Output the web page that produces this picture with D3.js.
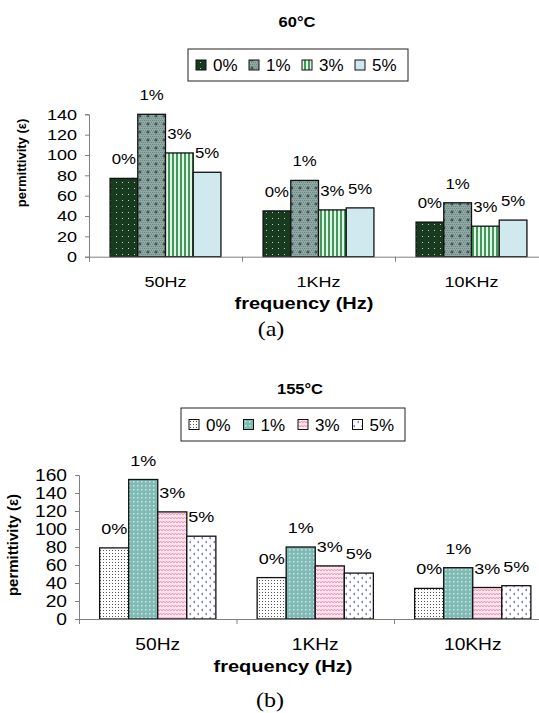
<!DOCTYPE html>
<html>
<head>
<meta charset="utf-8">
<script src="https://cdn.jsdelivr.net/npm/d3@7"></script>
<style>
  html, body { margin: 0; padding: 0; background: #fff; }
  svg { display: block; font-family: "Liberation Sans", Arial, sans-serif; }
</style>
</head>
<body>
<svg id="chart" width="539" height="713"></svg>
<script>
// Frequencies on the x axis and filler loadings (series)
const categories = ["50Hz", "1KHz", "10KHz"];
const seriesNames = ["0%", "1%", "3%", "5%"];

// Permittivity at 60°C, one array per loading, indexed by frequency
const p60_0 = [77, 45, 34];
const p60_1 = [140, 75, 53];
const p60_3 = [102, 46, 30];
const p60_5 = [83, 48, 36];

// Permittivity at 155°C
const p155_0 = [79, 46, 34];
const p155_1 = [155, 80, 57];
const p155_3 = [119, 59, 35];
const p155_5 = [92, 51, 37];

const ticks60 = [0, 20, 40, 60, 80, 100, 120, 140];
const ticks155 = [0, 20, 40, 60, 80, 100, 120, 140, 160];

const svg = d3.select("#chart");
const defs = svg.append("defs");

// ---- fill patterns ----
function pattern(id, w, h, build) {
  const p = defs.append("pattern").attr("id", id)
    .attr("patternUnits", "userSpaceOnUse").attr("width", w).attr("height", h);
  build(p);
}
// 60°C: dark green with light dots
pattern("a0", 6, 6, p => {
  p.append("rect").attr("width", 6).attr("height", 6).attr("fill", "#183a1f");
  p.append("rect").attr("x", 2).attr("y", 2).attr("width", 1).attr("height", 1).attr("fill", "#b9d2bb");
});
// 60°C: grey-teal fine checker with dark crosses
pattern("a1", 8, 8, p => {
  p.append("rect").attr("width", 8).attr("height", 8).attr("fill", "#8fa8a3");
  for (let i = 0; i < 8; i += 2) for (let j = 0; j < 8; j += 2) {
    p.append("rect").attr("x", i + ((j / 2) % 2)).attr("y", j).attr("width", 1).attr("height", 1).attr("fill", "#6d8782");
  }
  p.append("path").attr("d", "M4,2.5V5.5M2.5,4H5.5").attr("stroke", "#2c403c").attr("stroke-width", 1);
});
// 60°C: green vertical stripes
pattern("a2", 4, 4, p => {
  p.append("rect").attr("width", 4).attr("height", 4).attr("fill", "#e4f2e4");
  p.append("rect").attr("width", 2).attr("height", 4).attr("fill", "#3d9a5c");
});
// 60°C: plain light cyan
pattern("a3", 4, 4, p => {
  p.append("rect").attr("width", 4).attr("height", 4).attr("fill", "#cfe9ee");
});
// 155°C: white with dense dark dots
pattern("b0", 3, 3, p => {
  p.append("rect").attr("width", 3).attr("height", 3).attr("fill", "#fff");
  p.append("rect").attr("x", 1).attr("y", 1).attr("width", 1).attr("height", 1).attr("fill", "#555");
});
// 155°C: teal with light dots
pattern("b1", 4, 4, p => {
  p.append("rect").attr("width", 4).attr("height", 4).attr("fill", "#7fbab4");
  p.append("rect").attr("x", 1).attr("y", 1).attr("width", 1.5).attr("height", 1.5).attr("fill", "#cfe8e4");
});
// 155°C: pink zigzag
pattern("b2", 6, 4, p => {
  p.append("rect").attr("width", 6).attr("height", 4).attr("fill", "#fde6ee");
  p.append("path").attr("d", "M0,3L1.5,1L3,3L4.5,1L6,3").attr("fill", "none")
    .attr("stroke", "#f094b6").attr("stroke-width", 1);
});
// 155°C: white with small blue chevrons
pattern("b3", 8, 8, p => {
  p.append("rect").attr("width", 8).attr("height", 8).attr("fill", "#fff");
  p.append("path").attr("d", "M3,1L1.5,2L3,3M7,5L5.5,6L7,7").attr("fill", "none")
    .attr("stroke", "#5a5ab0").attr("stroke-width", 0.9);
});

// horizontally stretched text helper
function label(g, x, y, txt, opts) {
  const o = Object.assign({ size: 14, sx: 1.2, anchor: "middle", weight: "normal", family: null }, opts || {});
  const t = g.append("text")
    .attr("transform", `translate(${x},${y}) scale(${o.sx},1)`)
    .attr("text-anchor", o.anchor)
    .attr("font-size", o.size)
    .attr("font-weight", o.weight)
    .attr("fill", "#000")
    .text(txt);
  if (o.family) t.attr("font-family", o.family);
  return t;
}

function drawPanel(cfg) {
  const g = svg.append("g");
  const y = d3.scaleLinear().domain([0, cfg.yMax]).range([cfg.y0, cfg.yTop]);
  const x = d3.scaleBand().domain(categories).range([cfg.x0, cfg.x0 + 3 * cfg.catW]).padding(0);
  const xs = d3.scaleBand().domain(seriesNames).range([0, cfg.catW]).paddingInner(0).paddingOuter(cfg.outer);

  // title
  label(g, cfg.titleX, cfg.titleY, cfg.title, { size: 15, sx: 1.1, weight: "bold" });

  // legend
  const lg = g.append("g");
  lg.append("rect").attr("x", cfg.legX).attr("y", cfg.legY).attr("width", cfg.legW).attr("height", cfg.legH)
    .attr("fill", "#fff").attr("stroke", "#222").attr("stroke-width", 1);
  seriesNames.forEach((s, i) => {
    const lx = cfg.legX + 8 + i * cfg.legStep;
    const cy = cfg.legY + cfg.legH / 2;
    lg.append("rect").attr("x", lx).attr("y", cy - 5).attr("width", 10).attr("height", 10)
      .attr("fill", `url(#${cfg.fills[i]})`).attr("stroke", "#111").attr("stroke-width", 1);
    label(lg, lx + 17, cy + 6, s, { size: 17, sx: 1.0, anchor: "start" });
  });

  // value labels (beneath the bars, as in the original plot)
  const lbl = g.append("g");
  cfg.data.forEach((vals, si) => {
    vals.forEach((v, ci) => {
      const cx = x(categories[ci]) + xs(seriesNames[si]) + xs.bandwidth() / 2;
      label(lbl, cx, y(v) - 14, seriesNames[si], { size: cfg.labSize, sx: 1.2 });
    });
  });

  // bars
  const bars = g.append("g");
  cfg.data.forEach((vals, si) => {
    bars.selectAll(null).data(vals).join("rect")
      .attr("x", (d, ci) => x(categories[ci]) + xs(seriesNames[si]))
      .attr("y", d => y(d))
      .attr("width", xs.bandwidth())
      .attr("height", d => y(0) - y(d))
      .attr("fill", `url(#${cfg.fills[si]})`)
      .attr("stroke", "#111").attr("stroke-width", 1.3);
  });

  // y axis
  const ya = g.append("g").attr("transform", `translate(${cfg.x0},0)`)
    .call(d3.axisLeft(y).tickValues(cfg.ticks).tickSize(4).tickPadding(6).tickFormat(d3.format("d")));
  ya.select(".domain").attr("stroke", "#808080");
  ya.selectAll(".tick line").attr("stroke", "#808080");
  ya.selectAll("text").attr("font-size", cfg.tickSize).attr("fill", "#000")
    .attr("font-family", "Liberation Sans, Arial, sans-serif")
    .attr("transform", "scale(1.2,1)");

  // x axis: boundary ticks between categories
  const xb = d3.scaleLinear().domain([0, 3]).range([cfg.x0, cfg.x0 + 3 * cfg.catW]);
  const xa = g.append("g").attr("transform", `translate(0,${cfg.y0})`)
    .call(d3.axisBottom(xb).tickValues([0, 1, 2, 3]).tickSize(5).tickSizeOuter(0).tickFormat(""));
  xa.select(".domain").attr("stroke", "#808080");
  xa.selectAll(".tick line").attr("stroke", "#808080");

  // category labels
  const xl = g.append("g").attr("transform", `translate(0,${cfg.y0})`)
    .call(d3.axisBottom(x).tickSize(0).tickPadding(cfg.catPad));
  xl.select(".domain").remove();
  xl.selectAll("text").attr("font-size", cfg.tickSize).attr("fill", "#000")
    .attr("font-family", "Liberation Sans, Arial, sans-serif")
    .attr("transform", "scale(1.2,1)");

  // axis titles
  label(g, cfg.xTitleX, cfg.xTitleY, "frequency (Hz)", { size: 16, sx: 1.25, weight: "bold" });
  g.append("text")
    .attr("transform", `translate(${cfg.yTitleX},${cfg.yTitleY}) rotate(-90)`)
    .attr("text-anchor", "middle").attr("font-size", cfg.yTitleSize).attr("font-weight", "bold")
    .text("permittivity (ε)");

  // panel caption
  label(g, cfg.capX, cfg.capY, cfg.caption, { size: 20, sx: 1.2, family: "Liberation Serif, Times New Roman, serif" });
}

drawPanel({
  title: "60°C", titleX: 297, titleY: 27,
  legX: 188, legY: 49, legW: 220, legH: 32, legStep: 53,
  fills: ["a0", "a1", "a2", "a3"],
  data: [p60_0, p60_1, p60_3, p60_5],
  yMax: 140, ticks: ticks60, y0: 256.7, yTop: 114.3,
  x0: 89, catW: 153, outer: 0.76,
  tickSize: 15, labSize: 14, catPad: 20,
  xTitleX: 304, xTitleY: 309,
  yTitleX: 26, yTitleY: 163, yTitleSize: 13,
  caption: "(a)", capX: 271, capY: 336
});

drawPanel({
  title: "155°C", titleX: 300, titleY: 394,
  legX: 181, legY: 408, legW: 224, legH: 33, legStep: 54.5,
  fills: ["b0", "b1", "b2", "b3"],
  data: [p155_0, p155_1, p155_3, p155_5],
  yMax: 160, ticks: ticks155, y0: 619, yTop: 475,
  x0: 79, catW: 157.5, outer: 0.71,
  tickSize: 16, labSize: 15, catPad: 20,
  xTitleX: 283, xTitleY: 672,
  yTitleX: 18, yTitleY: 545, yTitleSize: 15,
  caption: "(b)", capX: 270, capY: 707
});
</script>
</body>
</html>
